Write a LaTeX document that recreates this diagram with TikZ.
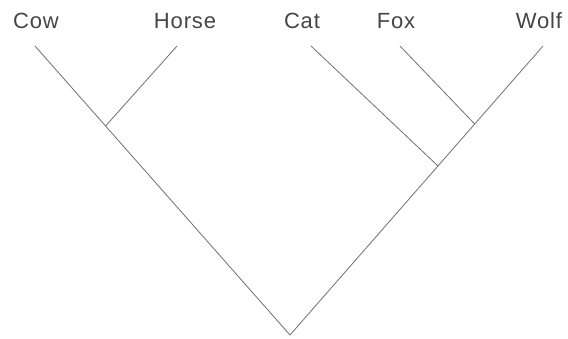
\documentclass[tikz,border=0pt]{standalone}
\usepackage{fontspec}
\setmainfont{Liberation Sans}
\newfontfamily\taxonfont[LetterSpace=4]{Liberation Sans}
\usetikzlibrary{positioning}
\definecolor{branch}{HTML}{707070}
\definecolor{taxon}{HTML}{454545}
\begin{document}
\begin{tikzpicture}[x=1pt,y=-1pt,
leaf/.style={font=\taxonfont\fontsize{22}{26}\selectfont,text=taxon,inner sep=0pt,anchor=base},
edge/.style={draw=branch,line width=0.8pt}]
\useasboundingbox (0,0) rectangle (568,338);
% tips of the branches
\coordinate (tcow) at (35,46);
\coordinate (thorse) at (177,46);
\coordinate (tcat) at (311,46);
\coordinate (tfox) at (400,46);
\coordinate (twolf) at (543,46);
% inner nodes
\coordinate (ch) at (105.6,126);
\coordinate (fw) at (474.7,124);
\coordinate (cfw) at (438,166);
\coordinate (root) at (290,335);
% labels
\node[leaf] (cow) at (36,28) {Cow};
\node[leaf] (horse) at (185,28) {Horse};
\node[leaf] (cat) at (302,28) {Cat};
\node[leaf] (fox) at (396,28) {Fox};
\node[leaf] (wolf) at (539,28) {Wolf};
\draw[edge] (tcow)--(root); \draw[edge] (twolf)--(root);
\draw[edge] (thorse)--(ch); \draw[edge] (tfox)--(fw);
\draw[edge] (tcat)--(cfw);
\end{tikzpicture}
\end{document}
